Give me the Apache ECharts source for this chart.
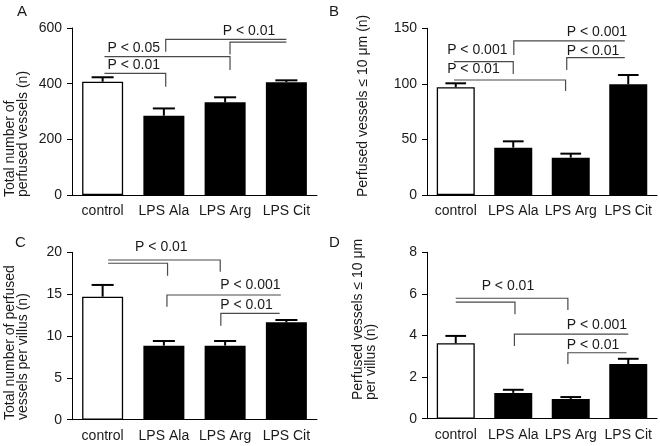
<!DOCTYPE html>
<html><head><meta charset="utf-8">
<script src="https://cdn.jsdelivr.net/npm/echarts@6/dist/echarts.min.js"></script>
<style>html,body{margin:0;padding:0;background:#fff}#c{width:660px;height:446px}</style>
</head><body><div id="c"></div>
<script>
// ---------- data ----------
const categories = ['control', 'LPS Ala', 'LPS Arg', 'LPS Cit'];

const meanA = [407, 285, 333, 405];
const upperA = [423, 311, 351, 412];
const meanB = [97, 42.6, 33.6, 99.6];
const upperB = [100.5, 48.3, 37.2, 108];
const meanC = [14.7, 8.85, 8.85, 11.63];
const upperC = [16.1, 9.4, 9.4, 11.91];
const meanD = [3.63, 1.24, 0.95, 2.63];
const upperD = [3.98, 1.39, 1.04, 2.88];

const yTicksA = [0, 200, 400, 600];
const yTicksB = [0, 50, 100, 150];
const yTicksC = [0, 5, 10, 15, 20];
const yTicksD = [0, 2, 4, 6, 8];

// significance brackets: polylines in (category position, value)
const bracketsA = [
  [[0.03, 437], [1.03, 437], [1.03, 389]],
  [[0.03, 497], [2.08, 497], [2.08, 449]],
  [[1.03, 515], [1.03, 559], [3.0, 559]],
  [[2.08, 505], [2.08, 549], [3.0, 549]]
];
const pLabelsA = [[0.08, 465, 'P < 0.01'], [0.08, 528, 'P < 0.05'], [1.96, 589, 'P < 0.01']];

const bracketsB = [
  [[-0.03, 103.5], [1.91, 103.5], [1.91, 93.6]],
  [[-0.03, 120], [1.0, 120], [1.0, 108.9]],
  [[1.01, 126], [1.01, 138.6], [2.94, 138.6]],
  [[1.93, 112.5], [1.93, 123.6], [2.94, 123.6]]
];
const pLabelsB = [[-0.15, 113, 'P < 0.01'], [-0.15, 130, 'P < 0.001'], [1.93, 129.6, 'P < 0.01'], [1.93, 146.4, 'P < 0.001']];

const bracketsC = [
  [[0.09, 19.08], [1.92, 19.08], [1.92, 17.68]],
  [[0.09, 18.69], [1.06, 18.69], [1.06, 17.2]],
  [[1.05, 13.5], [1.05, 14.9], [2.91, 14.9]],
  [[1.93, 11.23], [1.93, 12.71], [2.89, 12.71]]
];
const pLabelsC = [[0.53, 20.6, 'P < 0.01'], [1.92, 16.1, 'P < 0.001'], [1.92, 13.7, 'P < 0.01']];

const bracketsD = [
  [[0, 5.79], [1.95, 5.79], [1.95, 5.23]],
  [[0, 5.6], [1.03, 5.6], [1.03, 5.02]],
  [[1.02, 3.5], [1.02, 4.07], [3.0, 4.07]],
  [[1.95, 2.63], [1.95, 3.17], [2.97, 3.17]]
];
const pLabelsD = [[0.45, 6.35, 'P < 0.01'], [1.93, 4.5, 'P < 0.001'], [1.93, 3.56, 'P < 0.01']];

const yTitleA = 'Total number of\nperfused vessels (n)';
const yTitleB = 'Perfused vessels \u2264 10 \u03bcm (n)';
const yTitleC = 'Total number of perfused\nvessels per villus (n)';
const yTitleD = 'Perfused vessels \u2264 10 \u03bcm\nper villus (n)';

// ---------- chart ----------
const FONT = '"Liberation Sans", Arial, Helvetica, sans-serif';
const TXT = '#1a1a1a';
const LINE = '#4a4a4a';

const panels = [
  {mean: meanA, upper: upperA, ticks: yTicksA, br: bracketsA, pl: pLabelsA, grid: {left: 72, top: 28, width: 245, height: 167}, bw: 41},
  {mean: meanB, upper: upperB, ticks: yTicksB, br: bracketsB, pl: pLabelsB, grid: {left: 427, top: 28.3, width: 230, height: 166.7}, bw: 38},
  {mean: meanC, upper: upperC, ticks: yTicksC, br: bracketsC, pl: pLabelsC, grid: {left: 72, top: 252.3, width: 245, height: 167.4}, bw: 41},
  {mean: meanD, upper: upperD, ticks: yTicksD, br: bracketsD, pl: pLabelsD, grid: {left: 427, top: 252.3, width: 230, height: 166.4}, bw: 38}
];

function toPx(api, u, v) {
  const p0 = api.coord([0, v]);
  const bw = api.size([1, 0])[0];
  return [p0[0] + u * bw, p0[1]];
}

const grid = [], xAxis = [], yAxis = [], series = [];
panels.forEach((p, k) => {
  grid.push(Object.assign({containLabel: false}, p.grid));
  xAxis.push({
    type: 'category', gridIndex: k, data: categories,
    axisLine: {lineStyle: {color: '#000', width: 1}},
    axisTick: {show: false},
    axisLabel: {color: TXT, fontSize: 14, fontFamily: FONT, margin: 9, interval: 0}
  });
  yAxis.push({
    type: 'value', gridIndex: k,
    min: p.ticks[0], max: p.ticks[p.ticks.length - 1], interval: p.ticks[1] - p.ticks[0],
    axisLine: {show: true, lineStyle: {color: '#000', width: 1}},
    axisTick: {show: true, length: 5, lineStyle: {color: '#000'}},
    splitLine: {show: false},
    axisLabel: {color: TXT, fontSize: 14, fontFamily: FONT, margin: 10}
  });
  series.push({
    type: 'bar', xAxisIndex: k, yAxisIndex: k, barWidth: p.bw, silent: true,
    data: p.mean.map((v, i) => ({
      value: v,
      itemStyle: i === 0 ? {color: '#fff', borderColor: '#000', borderWidth: 1.3} : {color: '#000'}
    }))
  });
  // error bars (upper only)
  series.push({
    type: 'custom', xAxisIndex: k, yAxisIndex: k, silent: true, clip: false, z: 5,
    data: p.mean.map((v, i) => [i, v, p.upper[i]]),
    renderItem: function (params, api) {
      const b = api.coord([api.value(0), api.value(1)]);
      const t = api.coord([api.value(0), api.value(2)]);
      const half = api.size([1, 0])[0] * 0.18;
      return {
        type: 'group', children: [
          {type: 'line', shape: {x1: b[0], y1: b[1], x2: t[0], y2: t[1]}, style: {stroke: '#000', lineWidth: 2}},
          {type: 'line', shape: {x1: t[0] - half, y1: t[1], x2: t[0] + half, y2: t[1]}, style: {stroke: '#000', lineWidth: 2}}
        ]
      };
    }
  });
  // brackets
  series.push({
    type: 'custom', xAxisIndex: k, yAxisIndex: k, silent: true, clip: false, z: 6,
    data: p.br.map((pts, i) => [i]),
    encode: {x: -1, y: -1},
    renderItem: function (params, api) {
      const pts = p.br[params.dataIndex].map(q => toPx(api, q[0], q[1]));
      return {type: 'polyline', shape: {points: pts}, style: {stroke: LINE, lineWidth: 1.2, fill: null}};
    }
  });
  // p-value labels
  series.push({
    type: 'custom', xAxisIndex: k, yAxisIndex: k, silent: true, clip: false, z: 7,
    data: p.pl.map((q, i) => [i]),
    encode: {x: -1, y: -1},
    renderItem: function (params, api) {
      const q = p.pl[params.dataIndex];
      const pt = toPx(api, q[0], q[1]);
      return {type: 'text', x: pt[0], y: pt[1], style: {text: q[2], fill: TXT, font: '14px ' + FONT, textAlign: 'left', textVerticalAlign: 'middle'}};
    }
  });
});

const titleStyle = (t) => ({text: t, fill: TXT, font: '14px ' + FONT, textAlign: 'left', textVerticalAlign: 'middle', lineHeight: 13});
const graphic = [
  {type: 'text', x: 16.5, y: 197, rotation: Math.PI / 2, style: titleStyle(yTitleA)},
  {type: 'text', x: 363, y: 197, rotation: Math.PI / 2, style: titleStyle(yTitleB)},
  {type: 'text', x: 16.5, y: 420, rotation: Math.PI / 2, style: titleStyle(yTitleC)},
  {type: 'text', x: 364.5, y: 400, rotation: Math.PI / 2, style: titleStyle(yTitleD)},
  {type: 'text', left: 17, top: 4, style: {text: 'A', fill: TXT, font: '15px ' + FONT}},
  {type: 'text', left: 329, top: 4, style: {text: 'B', fill: TXT, font: '15px ' + FONT}},
  {type: 'text', left: 15, top: 235, style: {text: 'C', fill: TXT, font: '15px ' + FONT}},
  {type: 'text', left: 329, top: 235, style: {text: 'D', fill: TXT, font: '15px ' + FONT}}
];

const chart = echarts.init(document.getElementById('c'), null, {renderer: 'canvas'});
chart.setOption({animation: false, backgroundColor: '#fff', grid, xAxis, yAxis, series, graphic});
</script>
</body></html>
